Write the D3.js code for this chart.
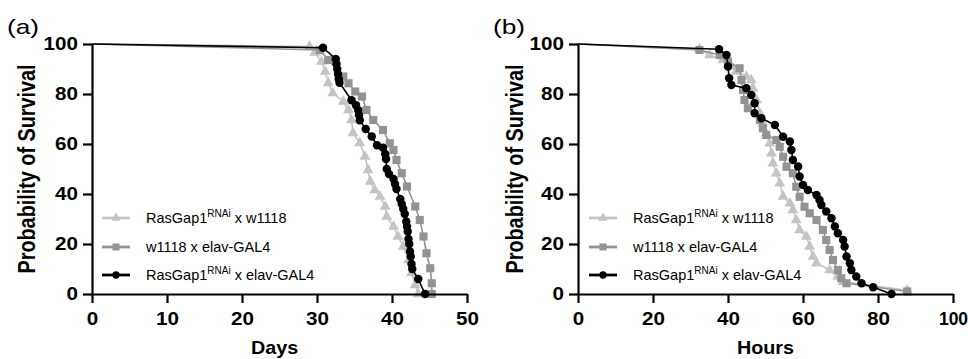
<!DOCTYPE html>
<html>
<head>
<meta charset="utf-8">
<script src="https://cdn.jsdelivr.net/npm/d3@7"></script>
<style>
  html, body { margin: 0; padding: 0; background: #fff; }
  svg { display: block; font-family: Arial, "Liberation Sans", Helvetica, sans-serif; }
</style>
</head>
<body>
<svg id="chart" width="968" height="359"></svg>
<script>
// ---------- DATA ----------
const seriesNames = ["RasGap1|RNAi| x w1118", "w1118 x elav-GAL4", "RasGap1|RNAi| x elav-GAL4"];
const yTicks = [0, 20, 40, 60, 80, 100];
const xTicksA = [0, 10, 20, 30, 40, 50];
const xTicksB = [0, 20, 40, 60, 80, 100];

// Panel (a): [day, % survival]
const aLight = [[0,100],[29,99],[29.7,96.6],[30.6,93],[31.1,89],[31.5,84.4],[32.1,80.4],[33.5,77],[34.2,73.6],[34.6,69.6],[34.8,64.4],[35.7,60.4],[36.4,55],[36.8,49.6],[37.1,45],[37.7,41.6],[38.4,39],[39.1,35],[39.3,31],[40.2,27],[40.8,23],[41.5,19],[42.2,13.6],[42.6,8.4],[43.1,3.6],[43.5,0]];
const aGray = [[0,100],[30.4,97.6],[31.5,93.6],[33.5,87],[34.2,84.3],[35.1,81],[36,79],[36.6,73.6],[37.5,69.6],[38.8,65.6],[39.7,60.3],[40.2,57.6],[40.6,53.6],[41.3,48.3],[42,43],[43.1,35],[43.7,29.6],[44.2,23],[44.6,16.3],[45.1,10.3],[45.3,4.3],[45.3,0]];
const aBlack = [[0,100],[30.8,98.5],[32.5,94],[32.6,92],[32.7,90],[32.8,88],[32.9,86],[33,84.5],[34.6,77.5],[35.2,75.5],[35.5,73.5],[35.6,71.5],[35.7,69.5],[36.5,66],[37.3,63],[38,59.5],[38.8,58.5],[39.1,56],[39.2,54],[39.3,50],[39.6,48],[40.2,46],[40.4,44],[40.6,42],[41.1,38],[41.3,36],[41.5,34],[41.7,32],[41.9,29],[42,27],[42.1,25],[42.2,22],[42.3,20],[42.4,17],[42.5,15],[42.6,12],[42.7,10],[43.5,6],[44.4,0]];

// Panel (b): [hour, % survival]
const bLight = [[0,100],[32.4,98],[35.1,95.6],[38.7,93.6],[40.9,91],[42.2,89],[44.9,87],[46.2,85.6],[46.7,82.3],[47.6,77.6],[48.5,72.3],[49.3,68.3],[50.2,64.3],[51.1,60.3],[51.6,56.3],[52,52.3],[52.9,48.3],[53.8,44.3],[54.7,39],[56.5,36.3],[57.3,33.6],[58.2,29.6],[59.1,25.6],[60.9,23],[61.8,19],[62.7,15],[63.6,12.3],[67.1,9.6],[69.3,7],[70.7,4.9],[87.8,1.5]];
const bGray = [[0,100],[32.4,97.6],[37.8,95.6],[40,93],[43.1,90.3],[43.6,85.6],[44,81.6],[44.4,77.6],[45.3,74.3],[48.5,69.6],[49.3,66.3],[50.2,63.6],[52.9,61.6],[53.8,58.9],[54.7,54.9],[55.6,50.9],[57.3,48.3],[58.2,42.9],[59.1,38.9],[60.4,34.9],[61.8,32.3],[63.6,29.6],[65.3,25.6],[66.2,21.6],[67.1,17.6],[68,13.6],[69.3,9.6],[70.2,6.3],[71.6,4.3],[87.8,1]];
const bBlack = [[0,100],[37.6,97.9],[39.6,95.6],[40,91],[40.3,86.3],[40.9,83.6],[44.9,82.3],[46.2,79.6],[47.1,76.3],[47.1,72.3],[48.9,70.3],[52.5,67.6],[54.7,62.9],[56.5,61],[56.9,57.6],[57.3,53.6],[58.7,51],[59.1,47],[60,43.6],[61.3,41.6],[63.6,39.6],[64.4,37.6],[64.9,35.6],[66.2,33],[67.6,30.3],[68.5,27],[69.3,24.3],[70.7,21.6],[71.1,19],[71.6,15],[72.5,12.3],[72.9,9.6],[74.2,7],[75.6,4.3],[78.7,2.7],[83.6,0]];

// ---------- STYLE ----------
const colors = ["#c4c4c4", "#939393", "#000000"];
const symbols = [d3.symbolTriangle, d3.symbolSquare, d3.symbolCircle];
const symSizes = [52, 66, 56];
const SX = 1.18; // horizontal stretch of the bold text

const svg = d3.select("#chart");

function panel(opts) {
  const { left, right, top, bottom, xMax, xTicks, xLabel, xLabelDx, yTitleX, tag, tagX, data, legendX } = opts;
  const x = d3.scaleLinear().domain([0, xMax]).range([left, right]);
  const y = d3.scaleLinear().domain([0, 100]).range([bottom, top]);
  const g = svg.append("g");

  // series
  const line = d3.line().x(d => x(d[0])).y(d => y(d[1]));
  data.forEach((s, i) => {
    g.append("path").datum(s).attr("d", line)
      .attr("fill", "none").attr("stroke", colors[i]).attr("stroke-width", 1.6);
    g.selectAll(null).data(s.slice(1)).enter().append("path")
      .attr("transform", d => `translate(${x(d[0])},${y(d[1])})`)
      .attr("d", d3.symbol().type(symbols[i]).size(symSizes[i]))
      .attr("fill", colors[i]);
  });

  // axes
  const xAxis = d3.axisBottom(x).tickValues(xTicks).tickSize(9).tickPadding(10).tickSizeOuter(0);
  const yAxis = d3.axisLeft(y).tickValues(yTicks).tickSize(9).tickPadding(5).tickSizeOuter(0);
  const gx = g.append("g").attr("transform", `translate(0,${bottom})`).call(xAxis);
  const gy = g.append("g").attr("transform", `translate(${left},0)`).call(yAxis);
  [gx, gy].forEach(a => {
    a.select(".domain").attr("stroke", "#000").attr("stroke-width", 2.2);
    a.selectAll(".tick line").attr("stroke", "#000").attr("stroke-width", 2.2);
    a.selectAll(".tick text").attr("fill", "#000").attr("font-size", 17.5).attr("font-weight", "bold")
      .attr("font-family", "Arial, 'Liberation Sans', sans-serif");
  });
  gx.selectAll(".tick text").attr("transform", d => `scale(${x(d) > 940 ? 1 : SX},1)`);
  gy.selectAll(".tick text").attr("x", -14 / SX).attr("transform", `scale(${SX},1)`);

  // axis titles
  g.append("text")
    .attr("transform", `translate(${(left + right) / 2 + xLabelDx},354) scale(1.13,1)`)
    .attr("text-anchor", "middle").attr("font-size", 17.5).attr("font-weight", "bold").text(xLabel);
  g.append("text").attr("transform", `translate(${yTitleX},${(top + bottom) / 2}) rotate(-90) scale(1,${SX})`)
    .attr("text-anchor", "middle").attr("font-size", 19.8).attr("font-weight", "bold")
    .text("Probability of Survival");

  // panel tag
  g.append("text").attr("transform", `translate(${tagX},34) scale(1.25,1)`)
    .attr("font-size", 21).text(tag);

  // legend
  const rows = [218, 247, 275];
  seriesNames.forEach((name, i) => {
    const lg = g.append("g");
    lg.append("line").attr("x1", legendX).attr("x2", legendX + 28)
      .attr("y1", rows[i]).attr("y2", rows[i]).attr("stroke", colors[i]).attr("stroke-width", 2.8);
    lg.append("path").attr("transform", `translate(${legendX + 14},${rows[i]})`)
      .attr("d", d3.symbol().type(symbols[i]).size(symSizes[i] * 0.75)).attr("fill", colors[i]);
    const t = lg.append("text").attr("x", legendX + 44).attr("y", rows[i] + 5).attr("font-size", 14.5);
    const parts = name.split("|");
    parts.forEach((p, k) => {
      const ts = t.append("tspan").text(p);
      if (k === 1) ts.attr("font-size", 10).attr("dy", -6);
      if (k === 2) ts.attr("dy", 6);
    });
  });
}

panel({ left: 92, right: 467, top: 44, bottom: 294, xMax: 50, xTicks: xTicksA, xLabel: "Days", xLabelDx: -5,
  yTitleX: 35, tag: "(a)", tagX: 7, data: [aLight, aGray, aBlack], legendX: 102 });
panel({ left: 578, right: 953, top: 44, bottom: 294, xMax: 100, xTicks: xTicksB, xLabel: "Hours", xLabelDx: 0,
  yTitleX: 523, tag: "(b)", tagX: 493, data: [bLight, bGray, bBlack], legendX: 589 });
</script>
</body>
</html>
